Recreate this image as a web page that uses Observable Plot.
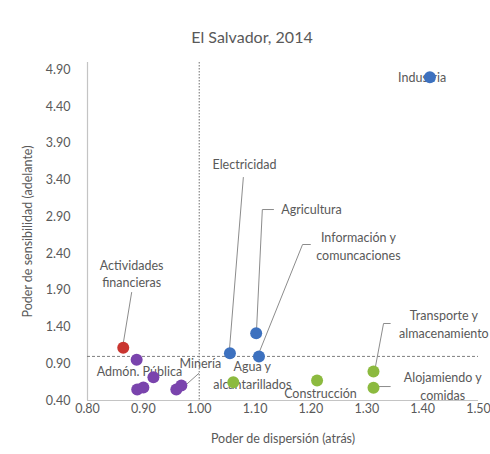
<!DOCTYPE html>
<html><head><meta charset="utf-8">
<script src="https://cdn.jsdelivr.net/npm/d3@7"></script>
<script src="https://cdn.jsdelivr.net/npm/@observablehq/plot@0.6"></script>
<style>
body{margin:0;background:#fff;font-family:Lato,sans-serif;}
#title{width:490px;height:47px;box-sizing:border-box;padding-top:27px;padding-left:14px;line-height:19px;font-size:16px;color:#595959;text-align:center;}
</style></head><body>
<div id="title">El Salvador, 2014</div>
<div id="chart"></div>
<script>
// Sector points
const sectors = ["Industria","Electricidad","Agricultura","Información y comunicaciones","Actividades financieras","Admón. Pública","Servicios A","Servicios B","Servicios C","Servicios D","Minería","Agua y alcantarillados","Construcción","Transporte y almacenamiento","Alojamiendo y comidas"];
const dispersion = [1.413,1.055,1.102,1.107,0.864,0.888,0.918,0.889,0.900,0.959,0.968,1.061,1.211,1.312,1.312];
const sensitivity = [4.80,1.044,1.316,1.00,1.117,0.954,0.717,0.55,0.577,0.55,0.604,0.649,0.672,0.795,0.573];
const groups = ["azul","azul","azul","azul","rojo","morado","morado","morado","morado","morado","morado","verde","verde","verde","verde"];
const groupNames = ["azul","rojo","morado","verde"];
const groupColors = ["#3d71bf","#c9352f","#7a44ad","#8cba3f"];

// Axis ticks
const xTicks = [0.8,0.9,1.0,1.1,1.2,1.3,1.4,1.5];
const yTicks = [0.4,0.9,1.4,1.9,2.4,2.9,3.4,3.9,4.4,4.9];

// Reference lines
const refX = [1.0];
const refY = [1.0];

// Annotation labels (data coordinates)
const labelText = ["Industria","Electricidad","Agricultura","Información y\ncomuncaciones","Actividades\nfinancieras","Admón. Pública","Minería","Agua y\nalcantarillados","Construcción","Transporte y\nalmacenamiento","Alojamiendo y\ncomidas"];
const labelX = [1.399,1.081,1.201,1.285,0.879,0.893,1.002,1.095,1.217,1.438,1.436];
const labelY = [4.81,3.625,3.013,2.51,2.14,0.808,0.917,0.754,0.51,1.448,0.604];

// Leader lines (data coordinates)
const leaderId = ["e","e","a","a","a","i","i","i","f","f","m","m","t","t","t","o","o"];
const leaderX = [1.054,1.079,1.1025,1.113,1.133,1.108,1.185,1.199,0.864,0.879,0.977,0.999,1.3156,1.33,1.342,1.321,1.342];
const leaderY = [1.08,3.435,1.339,2.999,2.999,1.067,2.523,2.523,1.176,1.87,0.618,0.767,0.863,1.448,1.448,0.59,0.59];

const points = sectors.map((s,i)=>({s, x:dispersion[i], y:sensitivity[i], g:groups[i]}));
const labels = labelText.map((t,i)=>({t, x:labelX[i], y:labelY[i]}));
const leaders = leaderId.map((id,i)=>({id, x:leaderX[i], y:leaderY[i]}));

const chart = Plot.plot({
  width: 490, height: 407,
  marginLeft: 87, marginRight: 12, marginTop: 15, marginBottom: 54,
  style: {fontFamily: "Lato, sans-serif", fontSize: "12.5px", color: "#595959", background: "white"},
  x: {domain: [0.8, 1.5]},
  y: {domain: [0.4, 5.0]},
  color: {domain: groupNames, range: groupColors},
  marks: [
    Plot.ruleX([0.8], {stroke: "#c4c4c4", strokeWidth: 1.2}),
    Plot.ruleY([0.4], {stroke: "#c4c4c4", strokeWidth: 1.2}),
    Plot.ruleX(refX, {stroke: "#6f6f6f", strokeDasharray: "1.5,1.5"}),
    Plot.ruleY(refY, {stroke: "#7f7f7f", strokeDasharray: "3,2"}),
    Plot.axisX({ticks: xTicks, tickFormat: d => d.toFixed(2), tickSize: 0, tickPadding: 4, fill: "#595959", fontSize: 12.5,
      label: "Poder de dispersión (atrás)", labelAnchor: "center", labelArrow: "none", labelOffset: 42}),
    Plot.axisY({ticks: yTicks, tickFormat: d => d.toFixed(2), tickSize: 0, tickPadding: 17, fill: "#595959", fontSize: 12.5,
      label: "Poder de sensibilidad (adelante)", labelAnchor: "center", labelArrow: "none", labelOffset: 64}),
    Plot.line(leaders, {x: "x", y: "y", z: "id", stroke: "#8c8c8c", strokeWidth: 1}),
    Plot.text(labels, {x: "x", y: "y", text: "t", fill: "#595959", fontSize: 12.5, lineHeight: 1.4}),
    Plot.dot(points, {x: "x", y: "y", fill: "g", r: 6})
  ]
});
document.getElementById("chart").appendChild(chart);
</script>
</body></html>
